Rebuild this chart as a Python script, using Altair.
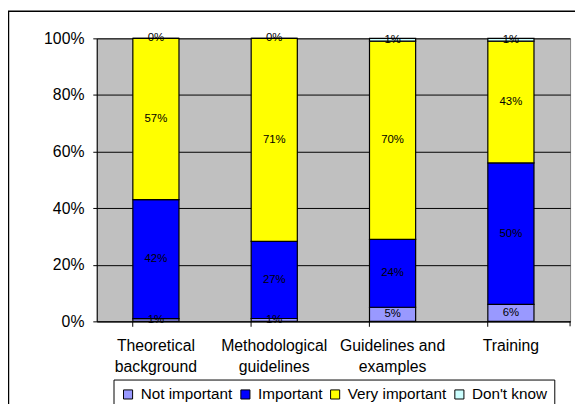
import altair as alt
import pandas as pd

categories = ["Theoretical background", "Methodological guidelines", "Guidelines and examples", "Training"]
responses = ["Not important", "Important", "Very important", "Don't know"]
colors = ["#9999FF", "#0000FF", "#FFFF00", "#CCFFFF"]
not_important = [1, 1, 5, 6]
important = [42, 27, 24, 50]
very_important = [57, 71, 70, 43]
dont_know = [0, 0, 1, 1]

series = [not_important, important, very_important, dont_know]
rows = []
for ri, (resp, vals) in enumerate(zip(responses, series)):
    for ci, cat in enumerate(categories):
        rows.append({"category": cat, "response": resp, "order": ri, "value": vals[ci]})
df = pd.DataFrame(rows)

FONT = "Liberation Sans"

base = alt.Chart(df).transform_joinaggregate(
    total="sum(value)", groupby=["category"]
).transform_window(
    cum="sum(value)", groupby=["category"], sort=[alt.SortField("order")],
    frame=[None, 0]
).transform_calculate(
    y_end="datum.cum / datum.total",
    y_start="(datum.cum - datum.value) / datum.total",
    y_mid="(datum.cum - datum.value / 2) / datum.total",
    label="datum.value + '%'"
)

x_enc = alt.X(
    "category:N", sort=categories, title=None,
    scale=alt.Scale(paddingInner=0.61, paddingOuter=0.305),
    axis=alt.Axis(
        labelAngle=0, labelFont=FONT, labelFontSize=16, labelColor="black",
        labelLineHeight=21, labelPadding=12, tickSize=5, tickColor="black",
        domainColor="black", bandPosition=0, labelBaseline="top",
        labelExpr="datum.label == 'Guidelines and examples' ? ['Guidelines and', 'examples'] : split(datum.label, ' ')",
    ),
)

y_scale = alt.Scale(domain=[0, 1], nice=False)

bars = base.mark_bar(stroke="black", strokeWidth=1.2).encode(
    x=x_enc,
    y=alt.Y(
        "y_start:Q", scale=y_scale, title=None,
        axis=alt.Axis(
            format=".0%", values=[0, 0.2, 0.4, 0.6, 0.8, 1.0],
            labelFont=FONT, labelFontSize=16, labelColor="black",
            labelPadding=9, tickSize=4, tickColor="black",
            domainColor="black", gridColor="black", gridWidth=1,
        ),
    ),
    y2="y_end:Q",
    fill=alt.Fill(
        "response:N",
        scale=alt.Scale(domain=responses, range=colors),
        legend=alt.Legend(
            title=None, orient="none", direction="horizontal",
            legendX=17, legendY=346, columns=4,
            symbolType="square", symbolSize=85, symbolStrokeColor="black",
            symbolStrokeWidth=1, symbolOpacity=1,
            labelFont=FONT, labelFontSize=15.5, labelColor="black",
            labelOffset=5, columnPadding=5,
            strokeColor="black", fillColor="white", padding=7,
        ),
    ),
    order=alt.Order("order:Q"),
)

texts = base.mark_text(font=FONT, fontSize=11.5, color="black", baseline="middle").encode(
    x=alt.X("category:N", sort=categories),
    y=alt.Y("y_mid:Q", scale=y_scale),
    text="label:N",
)

end_tick = alt.Chart(pd.DataFrame({"v": [0]})).mark_rule(color="black").encode(
    x=alt.value(480), y=alt.value(287), y2=alt.value(292)
)

border = alt.Chart(pd.DataFrame({"v": [0]})).mark_rect(
    fill=None, stroke="black", strokeWidth=1.5
).encode(
    x=alt.value(-89.5), x2=alt.value(700), y=alt.value(-27.5), y2=alt.value(600)
)

chart = alt.layer(bars, texts, end_tick, border).properties(
    width=480, height=287,
    autosize=alt.AutoSizeParams(type="none"),
    padding={"left": 90, "top": 28, "right": 5, "bottom": 81},
    background="white",
).configure_view(
    fill="#C0C0C0", stroke="#808080", strokeWidth=1
)

chart.save("out.html", embed_options={"renderer": "svg", "actions": False})
